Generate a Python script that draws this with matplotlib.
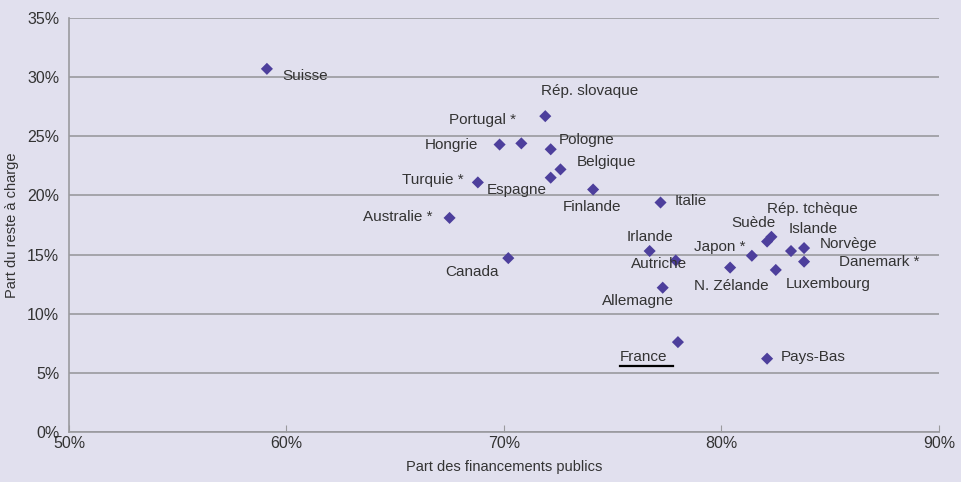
import matplotlib
matplotlib.use("Agg")
import matplotlib.pyplot as plt
from matplotlib.lines import Line2D
from matplotlib.ticker import FuncFormatter

# données (en %)
pays = ["Suisse", "Rép. slovaque", "Portugal *", "Hongrie", "Pologne", "Belgique",
        "Espagne", "Turquie *", "Finlande", "Italie", "Australie *", "Canada",
        "Irlande", "Autriche", "Allemagne", "Japon *", "N. Zélande", "Suède",
        "Rép. tchèque", "Islande", "Norvège", "Danemark *", "Luxembourg",
        "France", "Pays-Bas"]
part_publique = [59.1, 71.9, 70.8, 69.8, 72.15, 72.6,
                 72.15, 68.8, 74.1, 77.2, 67.5, 70.2,
                 76.7, 77.9, 77.3, 81.4, 80.4, 82.1,
                 82.3, 83.2, 83.8, 83.8, 82.5,
                 78.0, 82.1]
reste_a_charge = [30.7, 26.7, 24.4, 24.3, 23.9, 22.2,
                  21.5, 21.1, 20.5, 19.4, 18.1, 14.7,
                  15.3, 14.5, 12.2, 14.9, 13.9, 16.1,
                  16.5, 15.3, 15.55, 14.4, 13.7,
                  7.6, 6.2]

# placement des étiquettes : (dx, dy) en pixels, alignement horizontal
placement = {
    "Suisse": (15, -7, "left"),
    "Rép. slovaque": (44, 25, "center"),
    "Portugal *": (-5, 23, "right"),
    "Hongrie": (-21, 0, "right"),
    "Pologne": (8, 9, "left"),
    "Belgique": (16, 7, "left"),
    "Espagne": (-4, -12, "right"),
    "Turquie *": (-14, 2, "right"),
    "Finlande": (-1, -17, "center"),
    "Italie": (14, 2, "left"),
    "Australie *": (-17, 1, "right"),
    "Canada": (-36, -14, "center"),
    "Irlande": (0, 14, "center"),
    "Autriche": (-17, -4, "center"),
    "Allemagne": (-25, -13, "center"),
    "Japon *": (-6, 9, "right"),
    "N. Zélande": (1, -18, "center"),
    "Suède": (-14, 19, "center"),
    "Rép. tchèque": (41, 28, "center"),
    "Islande": (22, 22, "center"),
    "Norvège": (16, 4, "left"),
    "Danemark *": (35, 0, "left"),
    "Luxembourg": (52, -14, "center"),
    "France": (-58, -15, "left"),
    "Pays-Bas": (14, 2, "left"),
}

fond = "#E1E0EE"
violet = "#4D3F9C"
gris = "#9A9A9E"
texte = "#333333"

plt.rcParams["font.family"] = ["Liberation Sans", "DejaVu Sans"]

fig = plt.figure(figsize=(9.61, 4.82), dpi=100, facecolor=fond)
ax = fig.add_axes([0.0718, 0.1037, 0.9052, 0.859])
ax.set_facecolor(fond)

ax.scatter(part_publique, reste_a_charge, marker="D", s=38, color=violet,
           edgecolors="none", zorder=3)

labels = {}
for nom, x, y in zip(pays, part_publique, reste_a_charge):
    dx, dy, ha = placement[nom]
    labels[nom] = ax.annotate(nom, (x, y), xytext=(dx * 0.72, dy * 0.72),
                              textcoords="offset points", ha=ha, va="center",
                              fontsize=11, color=texte, zorder=4)

ax.set_xlim(50, 90)
ax.set_ylim(0, 35)
ax.set_xticks(range(50, 91, 10))
ax.set_yticks(range(0, 36, 5))
pct = FuncFormatter(lambda v, p: f"{v:.0f}%")
ax.xaxis.set_major_formatter(pct)
ax.yaxis.set_major_formatter(pct)
ax.grid(axis="y", color=gris, linewidth=1.2)
ax.set_axisbelow(True)
for s in ["top", "right"]:
    ax.spines[s].set_visible(False)
for s in ["left", "bottom"]:
    ax.spines[s].set_color(gris)
    ax.spines[s].set_linewidth(1.2)
ax.tick_params(axis="x", direction="in", length=5, color=gris, labelsize=11.5,
               labelcolor=texte, pad=3)
ax.tick_params(axis="y", length=0, labelsize=11.5, labelcolor=texte, pad=7)
ax.set_xlabel("Part des financements publics", fontsize=10.5, color=texte, labelpad=6)
ax.set_ylabel("Part du reste à charge", fontsize=10.5, color=texte, labelpad=6)

# soulignement de France
fig.canvas.draw()
bb = labels["France"].get_window_extent()
fig.add_artist(Line2D([bb.x0, bb.x1 + 6], [bb.y0 - 2, bb.y0 - 2], transform=None,
                      color="black", linewidth=1.6))

fig.savefig("out.png", dpi=100, facecolor=fond)
